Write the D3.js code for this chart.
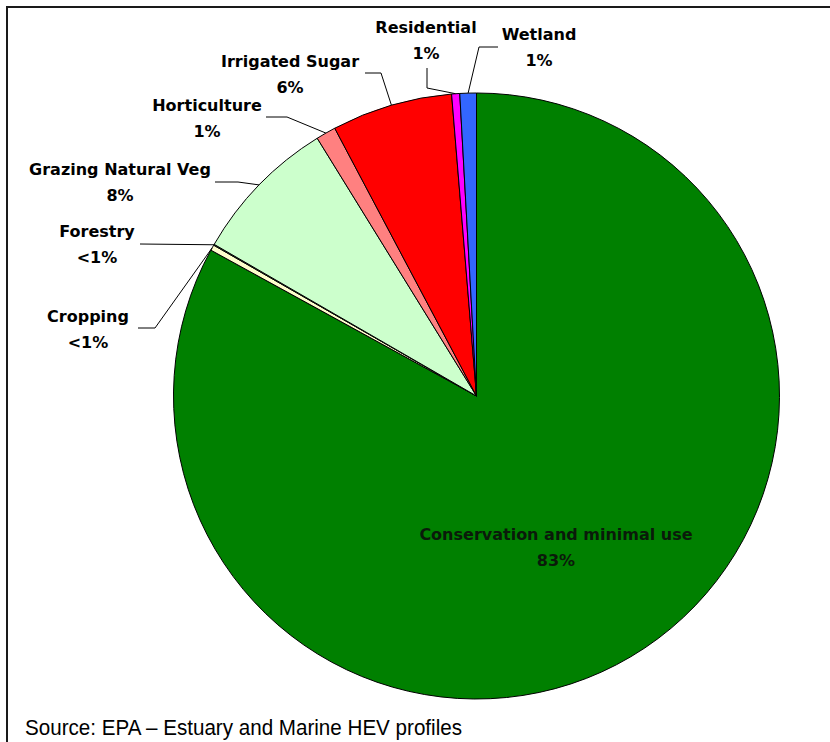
<!DOCTYPE html>
<html><head><meta charset="utf-8">
<script src="https://cdn.jsdelivr.net/npm/d3@7"></script>
<style>
html,body{margin:0;padding:0;background:#fff;}
svg{display:block;}
</style></head>
<body>
<script>
// ---- data ----
const categories = ["Conservation and minimal use","Cropping","Forestry","Grazing Natural Veg","Horticulture","Irrigated Sugar","Residential","Wetland"];
const values = [83.0, 0.3, 0.05, 7.85, 1.06, 6.44, 0.43, 0.88];
const valueLabels = ["83%","<1%","<1%","8%","1%","6%","1%","1%"];
const colors = ["#008000","#FFFFCC","#99CC99","#CCFFCC","#FF8080","#FF0000","#FF00FF","#3366FF"];
const sourceText = "Source: EPA \u2013 Estuary and Marine HEV profiles";

// ---- layout (label placement) ----
const labelLayout = [
  {x:556, y:534, pts:null},
  {x:88,  y:316, pts:[[138,328],[155,328]]},
  {x:97,  y:231, pts:[[140,244]]},
  {x:120, y:169, pts:[[215,182],[238,182]]},
  {x:207, y:105, pts:[[266,117],[287,117]]},
  {x:290, y:61,  pts:[[365,73],[381,73]]},
  {x:426, y:27,  pts:[[427,68],[427,88]]},
  {x:539, y:34,  pts:[[498,47],[479,47]]}
];

const W = 830, H = 742, cx = 476.5, cy = 396, R = 303;
const svg = d3.select("body").append("svg").attr("width", W).attr("height", H);

// frame
svg.append("path").attr("d", `M7,${H} L7,7 L${W},7`).attr("fill","none").attr("stroke","#1a1a1a").attr("stroke-width",2);

const data = categories.map((c,i)=>({cat:c, value:values[i], label:valueLabels[i], color:colors[i], lay:labelLayout[i]}));
const pie = d3.pie().sort(null).value(d=>d.value).startAngle(0).endAngle(2*Math.PI);
const arcs = pie(data);
const arc = d3.arc().innerRadius(0).outerRadius(R);

const g = svg.append("g").attr("transform",`translate(${cx},${cy})`);
g.selectAll("path.slice").data(arcs).join("path").attr("class","slice")
  .attr("d", arc).attr("fill", d=>d.data.color)
  .attr("stroke","#000").attr("stroke-width",1).attr("stroke-linejoin","round");

// leaders
const line = d3.line();
arcs.forEach(a=>{
  const lay = a.data.lay;
  if(!lay.pts) return;
  const mid = (a.startAngle + a.endAngle)/2;
  const ex = cx + R*Math.sin(mid), ey = cy - R*Math.cos(mid);
  svg.append("path").attr("d", line([...lay.pts, [ex,ey]]))
    .attr("fill","none").attr("stroke","#000").attr("stroke-width",1);
});

// labels
const font = "'DejaVu Sans', Verdana, sans-serif";
arcs.forEach((a,i)=>{
  const lay = a.data.lay;
  const t = svg.append("text").attr("text-anchor","middle")
    .attr("font-family", font).attr("font-weight","bold").attr("font-size",16)
    .attr("fill", i===0 ? "#0a1a0a" : "#000");
  t.append("tspan").attr("x", lay.x).attr("y", lay.y).attr("dy","0.36em").text(a.data.cat);
  t.append("tspan").attr("x", lay.x).attr("y", lay.y + 26).attr("dy","0.36em").text(a.data.label);
});

// source
svg.append("text").attr("x",25).attr("y",735)
  .attr("font-family","'Liberation Sans Narrow','Liberation Sans',Arial,sans-serif")
  .attr("font-size",22).attr("fill","#000")
  .attr("textLength",437).attr("lengthAdjust","spacingAndGlyphs")
  .text(sourceText);
</script>
</body></html>
